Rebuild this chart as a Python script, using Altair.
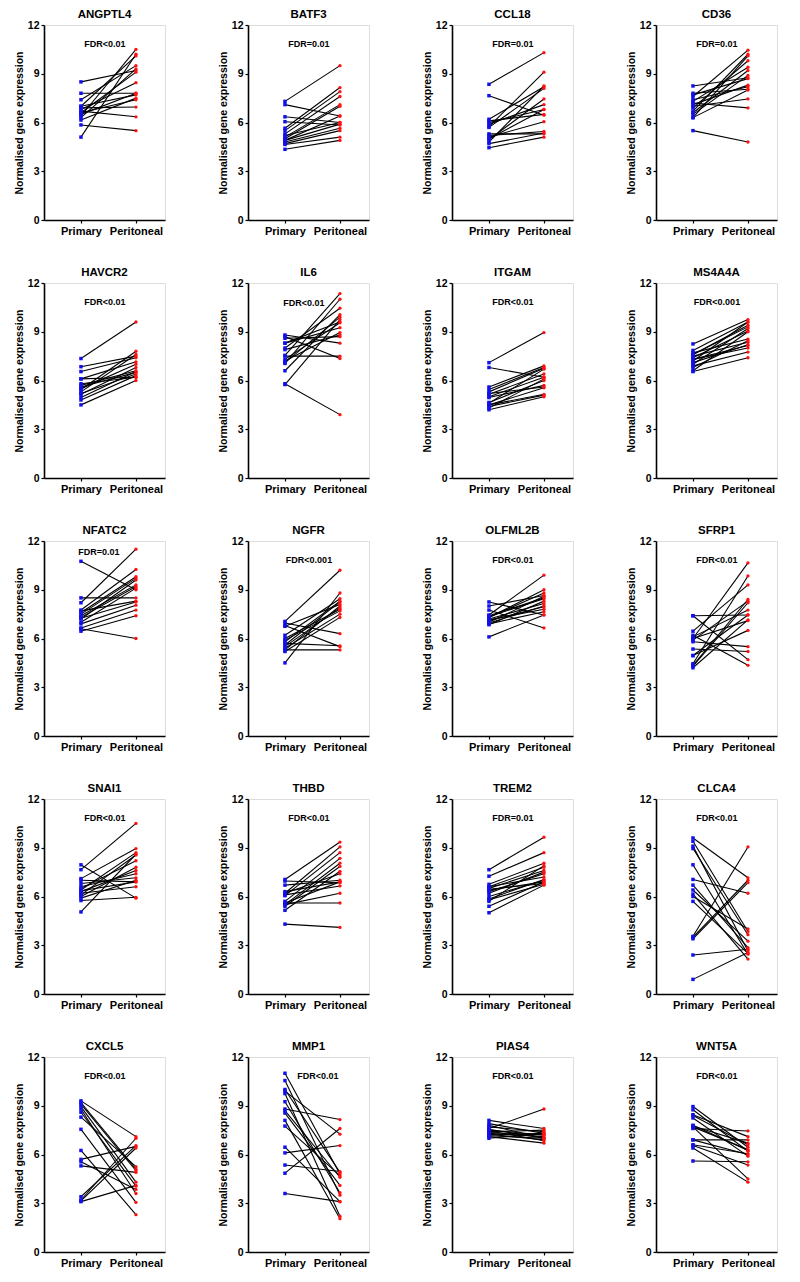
import altair as alt
import pandas as pd

# ---------------- data ----------------
genes = ["ANGPTL4", "BATF3", "CCL18", "CD36",
         "HAVCR2", "IL6", "ITGAM", "MS4A4A",
         "NFATC2", "NGFR", "OLFML2B", "SFRP1",
         "SNAI1", "THBD", "TREM2", "CLCA4",
         "CXCL5", "MMP1", "PIAS4", "WNT5A"]

fdr_labels = ["FDR<0.01", "FDR=0.01", "FDR=0.01", "FDR=0.01",
              "FDR<0.01", "FDR<0.01", "FDR<0.01", "FDR<0.001",
              "FDR=0.01", "FDR<0.001", "FDR<0.01", "FDR<0.01",
              "FDR<0.01", "FDR<0.01", "FDR=0.01", "FDR<0.01",
              "FDR<0.01", "FDR<0.01", "FDR<0.01", "FDR<0.01"]

angptl4_primary = [8.5, 7.8, 7.4, 5.1, 5.85, 6.15, 6.4, 6.6, 6.8, 7.0, 6.7, 6.9, 6.5, 7.0, 6.3, 6.6]
angptl4_peritoneal = [9.2, 7.8, 9.5, 10.2, 5.5, 7.5, 10.5, 9.1, 8.45, 7.7, 6.35, 6.95, 7.8, 10.1, 9.3, 7.4]

batf3_primary = [7.3, 7.1, 6.35, 6.05, 5.65, 5.5, 5.3, 5.1, 5.0, 4.9, 4.8, 4.7, 4.65, 4.35, 5.2, 4.9]
batf3_peritoneal = [9.5, 6.4, 6.0, 5.85, 8.15, 7.9, 7.6, 7.1, 7.0, 6.4, 5.65, 5.5, 5.1, 4.9, 6.0, 5.9]

ccl18_primary = [8.35, 7.65, 6.2, 6.0, 5.9, 5.75, 5.7, 5.3, 5.2, 5.1, 4.95, 4.8, 4.7, 4.45, 5.0, 6.1]
ccl18_peritoneal = [10.3, 6.45, 8.2, 6.8, 7.1, 9.1, 8.1, 5.3, 5.45, 6.05, 7.45, 8.25, 5.35, 5.1, 6.8, 6.5]

cd36_primary = [8.25, 7.8, 7.6, 7.4, 7.3, 7.2, 6.9, 6.7, 6.5, 6.3, 6.3, 7.0, 5.5, 7.7, 6.6, 7.1]
cd36_peritoneal = [8.75, 8.05, 10.45, 8.2, 9.4, 6.9, 9.8, 10.2, 8.9, 10.1, 8.0, 7.45, 4.8, 8.7, 9.2, 8.3]

havcr2_primary = [7.35, 6.85, 6.55, 6.1, 5.8, 5.6, 5.45, 5.3, 5.2, 5.15, 4.95, 4.8, 4.5, 5.5, 6.1, 5.7]
havcr2_peritoneal = [9.6, 7.5, 7.4, 7.15, 6.2, 6.5, 7.8, 7.6, 6.4, 6.8, 6.55, 6.3, 6.0, 7.0, 6.2, 6.6]

il6_primary = [8.8, 8.7, 8.6, 8.3, 8.0, 7.55, 7.3, 7.2, 7.05, 6.6, 5.8, 5.75, 7.5, 8.3, 7.1, 7.9]
il6_peritoneal = [8.3, 7.35, 8.7, 9.25, 10.45, 11.35, 9.55, 8.95, 11.0, 10.05, 3.9, 9.75, 7.5, 9.6, 9.9, 8.8]

itgam_primary = [7.1, 6.8, 5.6, 5.45, 5.3, 5.15, 5.0, 4.95, 4.65, 4.5, 4.4, 4.3, 4.2, 4.6, 5.2, 4.5]
itgam_peritoneal = [8.95, 6.2, 6.9, 6.8, 6.75, 6.4, 6.2, 5.7, 6.0, 5.55, 5.1, 6.1, 5.0, 6.7, 5.6, 5.15]

ms4a4a_primary = [8.25, 7.85, 7.7, 7.6, 7.5, 7.4, 7.3, 7.2, 7.1, 7.0, 6.9, 6.8, 6.55, 6.6, 7.3, 7.6]
ms4a4a_peritoneal = [9.75, 9.6, 8.55, 9.3, 8.35, 9.05, 8.15, 9.6, 8.2, 9.2, 7.75, 8.45, 7.4, 9.0, 8.0, 9.4]

nfatc2_primary = [10.75, 8.5, 8.2, 7.75, 7.6, 7.5, 7.4, 7.3, 7.25, 6.9, 6.65, 6.45, 6.6, 7.0, 7.7, 7.2]
nfatc2_peritoneal = [9.0, 8.5, 11.5, 10.25, 9.8, 9.7, 9.3, 9.2, 8.25, 8.05, 7.75, 7.4, 6.0, 9.1, 8.3, 9.6]

ngfr_primary = [7.05, 6.95, 6.75, 6.2, 5.9, 5.7, 5.6, 5.5, 5.4, 5.3, 5.2, 4.5, 6.0, 5.8, 6.8, 5.3]
ngfr_peritoneal = [10.2, 6.3, 8.1, 8.45, 7.7, 5.55, 8.25, 7.9, 7.5, 5.3, 7.3, 8.8, 7.8, 8.3, 5.5, 8.0]

olfml2b_primary = [8.25, 8.0, 7.75, 7.45, 7.35, 7.3, 7.2, 7.1, 7.0, 6.9, 6.85, 6.1, 7.3, 7.15, 6.95, 7.4]
olfml2b_peritoneal = [7.45, 8.65, 6.65, 9.9, 8.45, 9.0, 8.15, 7.95, 8.6, 7.65, 8.3, 7.45, 8.8, 7.8, 8.0, 8.5]

sfrp1_primary = [7.4, 7.4, 6.45, 6.2, 6.0, 5.8, 5.35, 4.95, 4.45, 4.35, 4.3, 4.2, 6.1, 5.9, 4.95, 6.0]
sfrp1_peritoneal = [7.45, 4.7, 9.3, 4.35, 10.65, 5.5, 5.2, 6.5, 9.85, 8.4, 8.2, 7.15, 7.75, 8.3, 7.45, 7.1]

snai1_primary = [7.95, 7.65, 7.1, 7.0, 6.8, 6.5, 6.4, 6.3, 6.2, 6.1, 6.0, 5.9, 5.75, 5.05, 6.6, 6.35]
snai1_peritoneal = [5.9, 10.5, 8.95, 6.9, 7.15, 8.2, 8.7, 7.6, 6.6, 8.55, 7.8, 7.0, 5.95, 8.6, 7.4, 6.9]

thbd_primary = [7.05, 6.95, 6.7, 6.2, 6.1, 6.05, 5.7, 5.6, 5.5, 5.5, 5.4, 5.15, 4.3, 5.6, 6.2, 6.3]
thbd_peritoneal = [9.35, 6.85, 7.0, 9.05, 6.65, 8.7, 8.35, 6.9, 8.05, 6.2, 7.85, 7.55, 4.1, 5.6, 7.4, 6.9]

trem2_primary = [7.65, 7.25, 6.75, 6.6, 6.5, 6.4, 6.3, 6.2, 5.85, 5.7, 5.4, 5.0, 6.6, 6.45, 6.0, 5.8]
trem2_peritoneal = [9.65, 8.7, 8.05, 7.8, 7.6, 6.9, 7.4, 7.5, 7.05, 7.9, 6.9, 6.7, 7.2, 6.8, 7.0, 6.75]

clca4_primary = [9.6, 9.4, 9.1, 8.95, 7.95, 7.05, 6.7, 6.4, 6.15, 6.0, 5.7, 3.55, 3.4, 3.5, 2.4, 0.9]
clca4_peritoneal = [7.15, 3.85, 2.65, 3.65, 2.45, 6.2, 2.85, 3.25, 2.15, 4.0, 2.5, 9.05, 6.85, 7.0, 2.75, 2.55]

cxcl5_primary = [9.3, 9.1, 8.95, 8.8, 8.6, 8.3, 7.55, 6.25, 5.7, 5.55, 5.3, 3.4, 3.2, 3.1, 3.15, 9.2]
cxcl5_peritoneal = [7.1, 5.0, 4.3, 3.6, 4.05, 5.25, 3.05, 2.3, 6.5, 3.85, 4.9, 6.55, 7.0, 4.1, 6.4, 5.1]

mmp1_primary = [11.0, 10.55, 10.0, 9.75, 9.25, 8.8, 8.55, 8.1, 7.75, 6.45, 6.1, 5.35, 4.85, 3.6, 9.9, 8.7]
mmp1_peritoneal = [4.8, 3.5, 4.9, 2.2, 3.65, 8.15, 4.1, 2.05, 4.7, 3.1, 6.55, 4.95, 7.6, 3.1, 7.25, 4.6]

pias4_primary = [8.1, 7.9, 7.8, 7.7, 7.6, 7.5, 7.45, 7.4, 7.3, 7.25, 7.2, 7.15, 7.1, 7.35, 7.55, 7.0]
pias4_peritoneal = [7.6, 7.3, 7.0, 7.4, 8.8, 7.2, 6.85, 7.5, 7.1, 6.9, 7.3, 7.0, 6.7, 7.2, 7.0, 7.3]

wnt5a_primary = [8.95, 8.75, 8.45, 8.25, 7.75, 7.7, 7.6, 6.9, 6.9, 6.55, 6.4, 5.6, 7.8, 8.4, 6.6, 7.7]
wnt5a_peritoneal = [6.45, 6.2, 7.1, 5.9, 6.7, 4.5, 7.45, 6.9, 6.0, 5.35, 4.3, 5.55, 6.25, 6.6, 6.05, 6.3]

groups = ["Primary", "Peritoneal"]
y_ticks = [0, 3, 6, 9, 12]

series = {
    "ANGPTL4": (angptl4_primary, angptl4_peritoneal),
    "BATF3": (batf3_primary, batf3_peritoneal),
    "CCL18": (ccl18_primary, ccl18_peritoneal),
    "CD36": (cd36_primary, cd36_peritoneal),
    "HAVCR2": (havcr2_primary, havcr2_peritoneal),
    "IL6": (il6_primary, il6_peritoneal),
    "ITGAM": (itgam_primary, itgam_peritoneal),
    "MS4A4A": (ms4a4a_primary, ms4a4a_peritoneal),
    "NFATC2": (nfatc2_primary, nfatc2_peritoneal),
    "NGFR": (ngfr_primary, ngfr_peritoneal),
    "OLFML2B": (olfml2b_primary, olfml2b_peritoneal),
    "SFRP1": (sfrp1_primary, sfrp1_peritoneal),
    "SNAI1": (snai1_primary, snai1_peritoneal),
    "THBD": (thbd_primary, thbd_peritoneal),
    "TREM2": (trem2_primary, trem2_peritoneal),
    "CLCA4": (clca4_primary, clca4_peritoneal),
    "CXCL5": (cxcl5_primary, cxcl5_peritoneal),
    "MMP1": (mmp1_primary, mmp1_peritoneal),
    "PIAS4": (pias4_primary, pias4_peritoneal),
    "WNT5A": (wnt5a_primary, wnt5a_peritoneal),
}

# ---------------- styling ----------------
FONT = "Liberation Sans"
W, H = 121, 195
# annotation placement (pixels from left of plot, value on y scale)
fdr_pos_default = (61, 10.85)
fdr_pos_special = {"NFATC2": (55, 11.3), "IL6": (56, 10.8), "MMP1": (70, 10.85)}


def panel(gene, fdr):
    pri, per = series[gene]
    rows = []
    for i, (a, b) in enumerate(zip(pri, per)):
        rows.append({"pair": i, "group": groups[0], "value": a})
        rows.append({"pair": i, "group": groups[1], "value": b})
    df = pd.DataFrame(rows)

    x = alt.X(
        "group:N",
        sort=groups,
        scale=alt.Scale(type="point", padding=0.6, align=0.56),
        axis=alt.Axis(
            title=None, labelAngle=0, labelFontSize=11, labelFontWeight="bold",
            labelFont=FONT, labelColor="black", tickSize=3, tickColor="black",
            tickWidth=1.2, domainColor="black", domainWidth=1.6, labelPadding=2,
            grid=False,
        ),
    )
    y = alt.Y(
        "value:Q",
        scale=alt.Scale(domain=[0, 12], nice=False, zero=True),
        axis=alt.Axis(
            values=y_ticks, title="Normalised gene expression", titleFontSize=10.5,
            titleFontWeight="bold", titleFont=FONT, titleColor="black",
            titlePadding=3, labelFontSize=10.5, labelFontWeight="bold",
            labelFont=FONT, labelColor="black", tickSize=3, tickColor="black",
            tickWidth=1.2, domainColor="black", domainWidth=1.6, labelPadding=2,
            grid=False,
        ),
    )
    base = alt.Chart(df)
    lines = base.mark_line(color="black", strokeWidth=1.1).encode(
        x=x, y=y, detail="pair:N"
    )
    pts_pri = base.transform_filter(alt.datum.group == groups[0]).mark_square(
        size=12, color="#1010ee", opacity=1
    ).encode(x=x, y=y)
    pts_per = base.transform_filter(alt.datum.group == groups[1]).mark_circle(
        size=11, color="#ff1010", opacity=1
    ).encode(x=x, y=y)

    fx, fy = fdr_pos_special.get(gene, fdr_pos_default)
    txt = alt.Chart(pd.DataFrame({"label": [fdr]})).mark_text(
        font=FONT, fontSize=9, fontWeight="bold", color="black", align="center",
        baseline="middle",
    ).encode(x=alt.value(fx), y=alt.datum(fy, type="quantitative"), text="label:N")

    return alt.layer(lines, pts_pri, pts_per, txt).properties(
        width=W, height=H,
        title=alt.TitleParams(
            gene, fontSize=11.5, fontWeight="bold", font=FONT, color="black",
            anchor="middle", frame="group", offset=0,
        ),
    )


rows = []
for r in range(5):
    row = [panel(genes[4 * r + c], fdr_labels[4 * r + c]) for c in range(4)]
    rows.append(alt.hconcat(*row, spacing=51))

chart = alt.vconcat(*rows, spacing=29).properties(
    padding={"left": 5, "top": 0, "right": 5, "bottom": 5}
).configure_view(stroke=None).configure(background="white")

chart.save("out.html", embed_options={"renderer": "svg", "actions": False})
